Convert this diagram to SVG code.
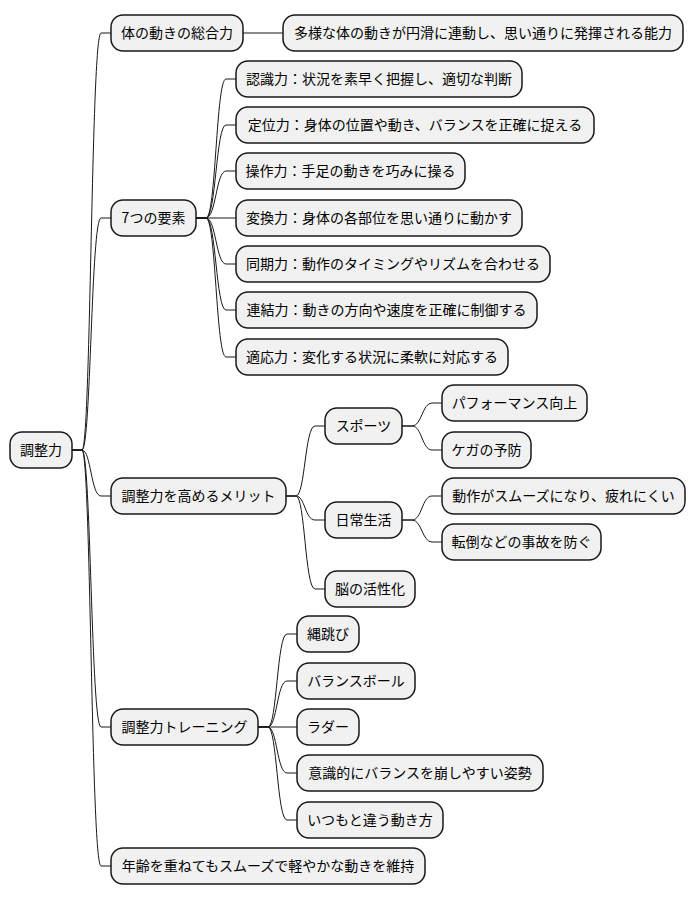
<svg xmlns="http://www.w3.org/2000/svg" width="696" height="900" viewBox="0 0 696 900">
<style>
.n rect{fill:#F1F1F1;stroke:#181818;stroke-width:1.5}
.n text{font-family:"Noto Sans CJK JP","Noto Sans",sans-serif;font-size:14px;fill:#000;text-anchor:middle}
.c path{fill:none;stroke:#181818;stroke-width:1}
</style>
<rect width="696" height="900" fill="#FFFFFF"/>
<g class="c" id="connectors">
<path d="M72,450 L82,450 C91,450 91,33 101,33 L111,33"/>
<path d="M72,450 L82,450 C91,450 91,218 101,218 L111,218"/>
<path d="M72,450 L82,450 C91,450 91,496 101,496 L111,496"/>
<path d="M72,450 L82,450 C91,450 91,727 101,727 L111,727"/>
<path d="M72,450 L82,450 C91,450 91,866 101,866 L111,866"/>
<path d="M243,33 L283,33"/>
<path d="M196,218 L206,218 C216,218 216,79 226,79 L236,79"/>
<path d="M196,218 L206,218 C216,218 216,125 226,125 L236,125"/>
<path d="M196,218 L206,218 C216,218 216,171 226,171 L236,171"/>
<path d="M196,218 L236,218"/>
<path d="M196,218 L206,218 C216,218 216,264 226,264 L236,264"/>
<path d="M196,218 L206,218 C216,218 216,310 226,310 L236,310"/>
<path d="M196,218 L206,218 C216,218 216,357 226,357 L236,357"/>
<path d="M286,496 L296,496 C305,496 305,426 315,426 L325,426"/>
<path d="M286,496 L296,496 C305,496 305,520 315,520 L325,520"/>
<path d="M286,496 L296,496 C305,496 305,589 315,589 L325,589"/>
<path d="M402,426 L412,426 C422,426 422,403 432,403 L442,403"/>
<path d="M402,426 L412,426 C422,426 422,450 432,450 L442,450"/>
<path d="M402,520 L412,520 C422,520 422,496 432,496 L442,496"/>
<path d="M402,520 L412,520 C422,520 422,542 432,542 L442,542"/>
<path d="M258,727 L268,727 C277,727 277,634 287,634 L297,634"/>
<path d="M258,727 L268,727 C277,727 277,681 287,681 L297,681"/>
<path d="M258,727 L297,727"/>
<path d="M258,727 L268,727 C277,727 277,773 287,773 L297,773"/>
<path d="M258,727 L268,727 C277,727 277,820 287,820 L297,820"/>
</g>
<g class="n" id="root"><rect x="10" y="432" width="62" height="36" rx="12"/><text x="41" y="455">調整力</text></g>
<g class="n" id="n1"><rect x="111" y="15" width="132" height="36" rx="12"/><text x="177" y="38">体の動きの総合力</text></g>
<g class="n" id="n1a"><rect x="283" y="15" width="400" height="36" rx="12"/><text x="483" y="38">多様な体の動きが円滑に連動し、思い通りに発揮される能力</text></g>
<g class="n" id="n2"><rect x="111" y="200" width="85" height="36" rx="12"/><text x="153.5" y="223">7つの要素</text></g>
<g class="n" id="n2a"><rect x="236" y="61" width="286" height="36" rx="12"/><text x="379" y="84">認識力：状況を素早く把握し、適切な判断</text></g>
<g class="n" id="n2b"><rect x="236" y="107" width="358" height="36" rx="12"/><text x="415" y="130">定位力：身体の位置や動き、バランスを正確に捉える</text></g>
<g class="n" id="n2c"><rect x="236" y="153" width="229" height="36" rx="12"/><text x="350.5" y="176">操作力：手足の動きを巧みに操る</text></g>
<g class="n" id="n2d"><rect x="236" y="200" width="286" height="36" rx="12"/><text x="379" y="223">変換力：身体の各部位を思い通りに動かす</text></g>
<g class="n" id="n2e"><rect x="236" y="246" width="314" height="36" rx="12"/><text x="393" y="269">同期力：動作のタイミングやリズムを合わせる</text></g>
<g class="n" id="n2f"><rect x="236" y="292" width="301" height="36" rx="12"/><text x="386.5" y="315">連結力：動きの方向や速度を正確に制御する</text></g>
<g class="n" id="n2g"><rect x="236" y="339" width="272" height="36" rx="12"/><text x="372" y="362">適応力：変化する状況に柔軟に対応する</text></g>
<g class="n" id="n3"><rect x="111" y="478" width="175" height="36" rx="12"/><text x="198.5" y="501">調整力を高めるメリット</text></g>
<g class="n" id="n3a"><rect x="325" y="408" width="77" height="36" rx="12"/><text x="363.5" y="431">スポーツ</text></g>
<g class="n" id="n3a1"><rect x="442" y="385" width="145" height="36" rx="12"/><text x="514.5" y="408">パフォーマンス向上</text></g>
<g class="n" id="n3a2"><rect x="442" y="432" width="89" height="36" rx="12"/><text x="486.5" y="455">ケガの予防</text></g>
<g class="n" id="n3b"><rect x="325" y="502" width="77" height="36" rx="12"/><text x="363.5" y="525">日常生活</text></g>
<g class="n" id="n3b1"><rect x="442" y="478" width="243" height="36" rx="12"/><text x="563.5" y="501">動作がスムーズになり、疲れにくい</text></g>
<g class="n" id="n3b2"><rect x="442" y="524" width="159" height="36" rx="12"/><text x="521.5" y="547">転倒などの事故を防ぐ</text></g>
<g class="n" id="n3c"><rect x="325" y="571" width="90" height="36" rx="12"/><text x="370" y="594">脳の活性化</text></g>
<g class="n" id="n4"><rect x="111" y="709" width="147" height="36" rx="12"/><text x="184.5" y="732">調整力トレーニング</text></g>
<g class="n" id="n4a"><rect x="297" y="616" width="62" height="36" rx="12"/><text x="328" y="639">縄跳び</text></g>
<g class="n" id="n4b"><rect x="297" y="663" width="118" height="36" rx="12"/><text x="356" y="686">バランスボール</text></g>
<g class="n" id="n4c"><rect x="297" y="709" width="62" height="36" rx="12"/><text x="328" y="732">ラダー</text></g>
<g class="n" id="n4d"><rect x="297" y="755" width="246" height="36" rx="12"/><text x="420" y="778">意識的にバランスを崩しやすい姿勢</text></g>
<g class="n" id="n4e"><rect x="297" y="802" width="146" height="36" rx="12"/><text x="370" y="825">いつもと違う動き方</text></g>
<g class="n" id="n5"><rect x="111" y="848" width="314" height="36" rx="12"/><text x="268" y="871">年齢を重ねてもスムーズで軽やかな動きを維持</text></g>
</svg>
